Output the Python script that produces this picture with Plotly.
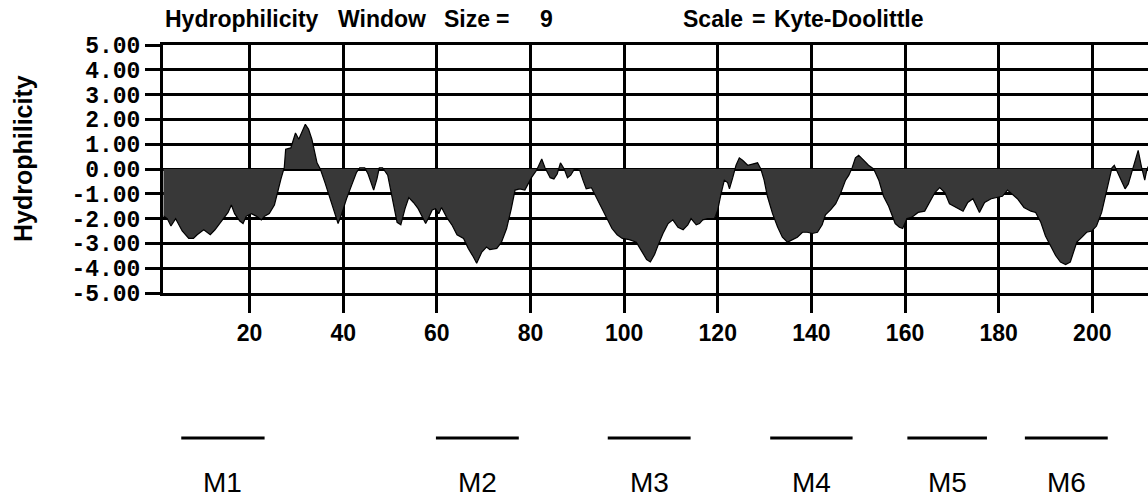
import plotly.graph_objects as go

# Kyte-Doolittle hydrophilicity profile (window size 9)
residue = [
    1.6, 2.4, 3.2, 4.2, 5.6, 7.0, 8.0, 8.8, 10.2, 11.6, 12.6, 14.0, 15.4, 16.1, 16.8,
    17.9, 18.6, 19.3, 20.4, 21.4, 22.5, 23.2, 24.2, 25.3, 26.0, 26.7, 27.4, 27.7, 28.8,
    29.8, 30.5, 31.9, 32.6, 33.3, 34.4, 35.1, 36.1, 37.2, 38.2, 38.9, 39.6, 40.7, 41.8,
    42.8, 43.5, 44.6, 45.3, 46.0, 46.5, 47.2, 47.7, 48.4, 49.5, 50.5, 51.5, 52.3, 53.2,
    54.0, 55.0, 56.0, 57.0, 57.6, 58.3, 59.0, 59.7, 60.4, 61.0, 62.1, 63.2, 64.3, 65.7,
    66.7, 67.8, 68.5, 69.6, 70.6, 71.3, 72.8, 73.8, 74.9, 75.9, 76.7, 77.7, 78.8, 79.5,
    80.2, 81.3, 82.4, 83.1, 84.2, 85.0, 85.7, 86.4, 87.2, 87.9, 88.6, 89.4, 90.5, 91.2,
    91.9, 93.0, 94.1, 95.2, 96.3, 97.4, 98.5, 99.6, 101.1, 102.6, 103.7, 104.8, 105.6,
    106.5, 107.2, 108.3, 109.4, 110.4, 111.5, 112.6, 113.6, 114.3, 115.4, 116.1, 116.8,
    117.9, 119.3, 120.0, 120.7, 121.4, 122.1, 122.5, 123.2, 123.9, 124.6, 125.3, 126.4,
    127.4, 128.5, 129.2, 129.9, 130.6, 131.7, 132.8, 133.8, 134.9, 136.0, 137.0, 138.1,
    139.1, 140.2, 141.3, 142.3, 143.0, 144.1, 145.2, 146.2, 147.3, 148.0, 148.7, 149.4,
    150.1, 151.2, 152.2, 153.3, 154.4, 155.4, 156.5, 157.9, 158.8, 159.5, 160.4, 161.4,
    162.8, 164.2, 165.3, 166.4, 167.4, 168.5, 169.5, 171.0, 172.4, 173.4, 174.5, 175.9,
    177.0, 178.4, 179.8, 180.8, 181.9, 183.0, 184.0, 185.4, 186.9, 187.9, 189.0, 190.0,
    191.1, 192.2, 193.2, 194.3, 195.3, 196.0, 196.7, 197.8, 198.8, 199.9, 200.9, 202.0,
    202.8, 203.5, 204.2, 204.7, 205.3, 206.3, 207.0, 207.7, 208.4, 209.1, 209.8, 210.5,
    211.2, 211.7, 212.5,
]
hydrophilicity = [
    -1.9, -2.0, -2.3, -2.0, -2.5, -2.8, -2.8, -2.65, -2.45, -2.65, -2.45, -2.1, -1.75, -1.45, -1.8,
    -2.1, -2.2, -1.9, -1.8, -1.9, -2.05, -1.9, -1.8, -1.45, -0.9, -0.4, 0.05, 0.8, 0.85,
    1.45, 1.2, 1.8, 1.6, 1.2, 0.25, 0.0, -0.55, -1.2, -1.8, -2.2, -1.85, -1.2, -0.65,
    -0.15, 0.05, 0.05, -0.2, -0.55, -0.85, -0.4, 0.05, 0.05, -0.25, -1.2, -2.15, -2.25, -1.6,
    -1.15, -1.35, -1.6, -1.95, -2.2, -1.95, -1.65, -1.6, -1.8, -1.55, -1.95, -2.25, -2.65, -2.8,
    -3.2, -3.55, -3.8, -3.35, -3.15, -3.25, -3.2, -2.95, -2.4, -1.6, -0.85, -0.8, -0.85, -0.6,
    -0.35, -0.05, 0.4, 0.05, -0.35, -0.4, -0.2, 0.25, 0.0, -0.35, -0.25, 0.0, -0.05, -0.45,
    -0.8, -0.75, -1.15, -1.6, -2.0, -2.4, -2.65, -2.8, -2.85, -2.95, -3.3, -3.65, -3.75,
    -3.45, -3.1, -2.6, -2.2, -2.05, -2.35, -2.45, -2.25, -2.0, -2.25, -2.2, -2.05,
    -2.0, -2.0, -1.65, -1.0, -0.45, -0.55, -0.8, -0.35, 0.15, 0.45, 0.35, 0.15,
    0.2, 0.25, 0.0, -0.45, -1.1, -1.8, -2.35, -2.75, -2.95, -2.85, -2.75, -2.55,
    -2.55, -2.6, -2.55, -2.25, -1.85, -1.65, -1.4, -1.0, -0.45, -0.25, 0.05, 0.45,
    0.55, 0.35, 0.15, 0.0, -0.45, -1.1, -1.5, -2.2, -2.35, -2.4, -2.0, -1.95,
    -1.75, -1.7, -1.35, -0.95, -0.75, -0.95, -1.4, -1.55, -1.7, -1.35, -1.2, -1.75,
    -1.35, -1.2, -1.15, -1.1, -0.85, -1.05, -1.2, -1.55, -1.7, -1.75, -2.15, -2.7,
    -3.1, -3.5, -3.75, -3.85, -3.75, -3.35, -2.95, -2.75, -2.55, -2.5, -2.3, -1.75,
    -1.1, -0.5, 0.05, 0.15, -0.1, -0.55, -0.8, -0.6, -0.15, 0.35, 0.75, 0.1,
    -0.45, 0.0, 0.3,
]

# Axis ticks
x_ticks = [20, 40, 60, 80, 100, 120, 140, 160, 180, 200]
x_tick_labels = ["20", "40", "60", "80", "100", "120", "140", "160", "180", "200"]
y_ticks = [5, 4, 3, 2, 1, 0, -1, -2, -3, -4, -5]
y_tick_labels = ["5.00", "4.00", "3.00", "2.00", "1.00", "0.00",
                 "-1.00", "-2.00", "-3.00", "-4.00", "-5.00"]

# Predicted membrane-spanning segments (residue ranges)
segment_labels = ["M1", "M2", "M3", "M4", "M5", "M6"]
segment_start = [5.4, 59.8, 96.5, 131.2, 160.5, 185.6]
segment_end = [23.2, 77.5, 114.2, 148.8, 177.5, 203.3]

fig = go.Figure()
fig.add_trace(go.Scatter(
    x=residue, y=hydrophilicity, mode="lines",
    line=dict(color="black", width=1.2),
    fill="tozeroy", fillcolor="#383838",
    hoverinfo="skip", showlegend=False,
))

# Segment bars and labels below the profile
for lab, s, e in zip(segment_labels, segment_start, segment_end):
    fig.add_shape(type="line", xref="x", yref="paper", x0=s, x1=e, y0=-0.585, y1=-0.585,
                  line=dict(color="black", width=3))
    fig.add_annotation(x=(s + e) / 2, y=-0.765, xref="x", yref="paper", text=lab,
                       showarrow=False, xanchor="center", yanchor="middle",
                       font=dict(family="Liberation Sans", size=28, color="black"))

# Header line, word by word
title_font = dict(family="Liberation Sans", size=23, color="black", weight="bold")
title_words = [("Hydrophilicity", 163), ("Window", 336), ("Size", 442), ("=", 494),
               ("9", 538), ("Scale", 681), ("=", 750), ("Kyte-Doolittle", 772)]
for txt, px in title_words:
    fig.add_annotation(x=(px - 163) / 985, y=(293 - 19) / 248, xref="paper", yref="paper",
                       text=txt, showarrow=False, xanchor="left", yanchor="middle",
                       font=title_font)

# Vertical axis title
fig.add_annotation(x=(23 - 163) / 985, y=(293 - 159) / 248, xref="paper", yref="paper",
                   text="Hydrophilicity", textangle=-90, showarrow=False,
                   xanchor="center", yanchor="middle",
                   font=dict(family="Liberation Sans", size=25, color="black", weight="bold"))

fig.update_xaxes(
    range=[1.5, 211.9], tickvals=x_ticks, ticktext=x_tick_labels,
    showgrid=True, gridcolor="black", gridwidth=3, zeroline=False,
    showline=True, linecolor="black", linewidth=3, mirror=True,
    ticks="outside", ticklen=17, tickwidth=3, tickcolor="black",
    tickfont=dict(family="Liberation Sans", size=23, color="black", weight="bold"),
)
fig.update_yaxes(
    range=[-5, 5], tickvals=y_ticks, ticktext=y_tick_labels,
    showgrid=True, gridcolor="black", gridwidth=3, zeroline=False,
    showline=True, linecolor="black", linewidth=3,
    ticks="outside", ticklen=15, tickwidth=3, tickcolor="black",
    tickfont=dict(family="Liberation Mono", size=23, color="black", weight="bold"),
)

fig.update_layout(
    width=1148, height=501,
    margin=dict(l=163, r=0, t=45, b=208, pad=0),
    paper_bgcolor="white", plot_bgcolor="white",
    showlegend=False,
)

fig.write_html("out.html")
